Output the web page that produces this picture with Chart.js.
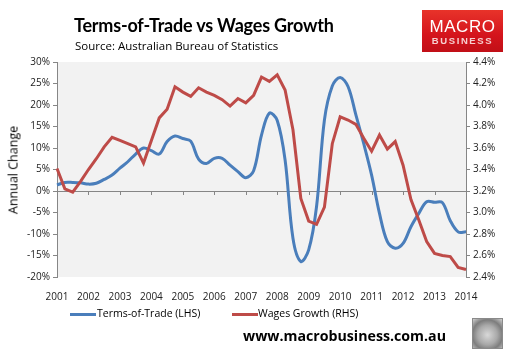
<!DOCTYPE html>
<html>
<head>
<meta charset="utf-8">
<script src="https://cdn.jsdelivr.net/npm/chart.js@4"></script>
<style>
  html, body { margin:0; padding:0; background:#fff; }
  #wrap { position:relative; width:515px; height:361px; overflow:hidden; font-family:"Open Sans", sans-serif; }
  #c { position:absolute; left:0; top:0; }
  .abs { position:absolute; white-space:nowrap; }
  #title { left:74px; top:14px; font-family:Lato, "Open Sans", sans-serif; font-size:18px; font-weight:bold; color:#000; letter-spacing:-0.2px; }
  #sub { left:75px; top:38px; font-size:11.5px; color:#000; }
  #logo { left:422px; top:10px; width:81px; height:42px; background:linear-gradient(180deg,#e8332a 0%,#d4141c 60%,#c10f17 100%); color:#fff; text-align:center; font-family:"Liberation Sans", Arial, sans-serif; }
  #logo .m { position:absolute; left:0; right:0; top:8px; font-size:17px; line-height:17px; letter-spacing:0.5px; }
  #logo .b { position:absolute; left:0; right:0; top:26px; font-size:9.5px; line-height:10px; letter-spacing:1.6px; font-weight:bold; color:#f6d0d0; }
  #ytitle { left:13px; top:170px; font-size:12.5px; color:#000; transform:translate(-50%,-50%) rotate(-90deg); }
  .leg { top:306px; font-size:10.5px; color:#000; }
  .sw { position:absolute; top:7px; width:26px; height:3px; }
  #footer { left:243px; top:326px; font-size:14.2px; font-weight:bold; color:#000; }
  #wolf { left:472px; top:318px; width:29px; height:29px; border:1px solid #8a8a8a; background:radial-gradient(circle at 50% 55%, #d8d8d8 0%, #a9a9a9 45%, #7d7d7d 70%, #cfcfcf 100%); }
</style>
</head>
<body>
<div id="wrap">
  <canvas id="c" width="515" height="361"></canvas>
  <div class="abs" id="title">Terms-of-Trade vs Wages Growth</div>
  <div class="abs" id="sub">Source: Australian Bureau of Statistics</div>
  <div class="abs" id="logo"><div class="m">MACRO</div><div class="b">BUSINESS</div></div>
  <div class="abs" id="ytitle">Annual Change</div>
  <div class="abs leg" style="left:70px;"><span class="sw" style="left:0;background:#4a7ebb"></span><span style="margin-left:27px">Terms-of-Trade (LHS)</span></div>
  <div class="abs leg" style="left:232px;"><span class="sw" style="left:0;background:#be4b48"></span><span style="margin-left:26px">Wages Growth (RHS)</span></div>
  <div class="abs" id="footer">www.macrobusiness.com.au</div>
  <div class="abs" id="wolf"></div>
</div>
<script>
// ---- Data (quarterly) ----
const years = ['2001','2002','2003','2004','2005','2006','2007','2008','2009','2010','2011','2012','2013','2014'];
const quarters = [];
years.forEach((y, i) => {
  const qs = (i === years.length - 1) ? ['Q1'] : ['Q1','Q2','Q3','Q4'];
  qs.forEach(q => quarters.push(y + ' ' + q));
});

// Terms-of-Trade, annual change (%), left axis
const termsOfTrade = [
  1.4, 2.0, 2.0, 1.9, 1.6, 1.8, 2.7, 3.7,
  5.3, 6.8, 8.6, 10.0, 9.4, 8.6, 11.5, 12.8,
  12.2, 11.6, 7.4, 6.4, 7.6, 7.6, 6.0, 4.5,
  3.1, 4.7, 13.0, 18.1, 16.4, 7.2, -11.0, -16.4,
  -13.7, -3.6, 16.5, 24.4, 26.4, 24.3, 17.7, 11.0,
  3.7, -5.2, -11.8, -13.3, -12.2, -8.3, -5.2, -2.5,
  -2.6, -2.7, -6.9, -9.5, -9.5
];

// Wages growth, annual (%), right axis
const wagesGrowth = [
  3.41, 3.22, 3.19, 3.29, 3.40, 3.50, 3.61, 3.70,
  3.67, 3.64, 3.61, 3.46, 3.67, 3.88, 3.96, 4.17,
  4.12, 4.08, 4.16, 4.12, 4.09, 4.05, 3.99, 4.06,
  4.02, 4.09, 4.26, 4.22, 4.28, 4.14, 3.77, 3.13,
  2.92, 2.89, 3.05, 3.64, 3.89, 3.86, 3.82, 3.69,
  3.57, 3.72, 3.59, 3.66, 3.44, 3.12, 2.93, 2.73,
  2.62, 2.60, 2.59, 2.49, 2.47
];

const leftTicks = { min: -20, max: 30, step: 5 };
const rightTicks = { min: 2.4, max: 4.4, step: 0.2 };

const AXIS = '#868686';
const TICKFONT = { family: '"Open Sans", sans-serif', size: 10 };

const bgPlugin = {
  id: 'plotBg',
  beforeDraw(chart) {
    const a = chart.chartArea, ctx = chart.ctx;
    ctx.save();
    ctx.fillStyle = '#f2f2f2';
    ctx.fillRect(a.left, a.top, a.right - a.left, a.bottom - a.top);
    ctx.restore();
  }
};

const zeroTicksPlugin = {
  id: 'zeroTicks',
  beforeDatasetsDraw(chart) {
    const x = chart.scales.x, y = chart.scales.y, ctx = chart.ctx;
    const y0 = y.getPixelForValue(0);
    ctx.save();
    ctx.strokeStyle = AXIS;
    ctx.lineWidth = 1;
    quarters.forEach((q, i) => {
      if (q.endsWith('Q1')) {
        const px = Math.round(x.getPixelForValue(i)) + 0.5;
        ctx.beginPath();
        ctx.moveTo(px, y0);
        ctx.lineTo(px, y0 + 4);
        ctx.stroke();
      }
    });
    ctx.restore();
  }
};

new Chart(document.getElementById('c'), {
  type: 'line',
  data: {
    labels: quarters,
    datasets: [
      {
        label: 'Terms-of-Trade (LHS)',
        data: termsOfTrade,
        yAxisID: 'y',
        borderColor: '#4a7ebb',
        borderWidth: 3,
        pointRadius: 0,
        tension: 0.35,
        order: 2
      },
      {
        label: 'Wages Growth (RHS)',
        data: wagesGrowth,
        yAxisID: 'y2',
        borderColor: '#be4b48',
        borderWidth: 3,
        pointRadius: 0,
        tension: 0,
        order: 1
      }
    ]
  },
  options: {
    responsive: false,
    animation: false,
    layout: { padding: { top: 62, left: 0, right: 0, bottom: 0 } },
    plugins: { legend: { display: false }, tooltip: { enabled: false } },
    scales: {
      x: {
        type: 'category',
        offset: false,
        grid: { display: false },
        border: { display: false },
        ticks: {
          autoSkip: false,
          maxRotation: 0,
          minRotation: 0,
          padding: 6,
          color: '#222',
          font: TICKFONT,
          callback: (v, i) => quarters[i].endsWith('Q1') ? quarters[i].slice(0, 4) : null
        },
        afterFit: s => { s.height = 84; }
      },
      y: {
        position: 'left',
        min: leftTicks.min,
        max: leftTicks.max,
        ticks: { stepSize: leftTicks.step, color: '#222', font: TICKFONT, padding: 3, callback: v => v + '%' },
        grid: {
          drawOnChartArea: true,
          color: c => (c.tick && c.tick.value === 0) ? AXIS : 'rgba(0,0,0,0)',
          tickColor: AXIS,
          tickLength: 4
        },
        border: { display: true, color: AXIS },
        afterFit: s => { s.width = 57; }
      },
      y2: {
        position: 'right',
        min: rightTicks.min,
        max: rightTicks.max,
        ticks: { stepSize: rightTicks.step, color: '#222', font: TICKFONT, padding: 3, callback: v => v.toFixed(1) + '%' },
        grid: { drawOnChartArea: false, tickColor: AXIS, tickLength: 4 },
        border: { display: true, color: AXIS },
        afterFit: s => { s.width = 49; }
      }
    }
  },
  plugins: [bgPlugin, zeroTicksPlugin]
});
</script>
</body>
</html>
